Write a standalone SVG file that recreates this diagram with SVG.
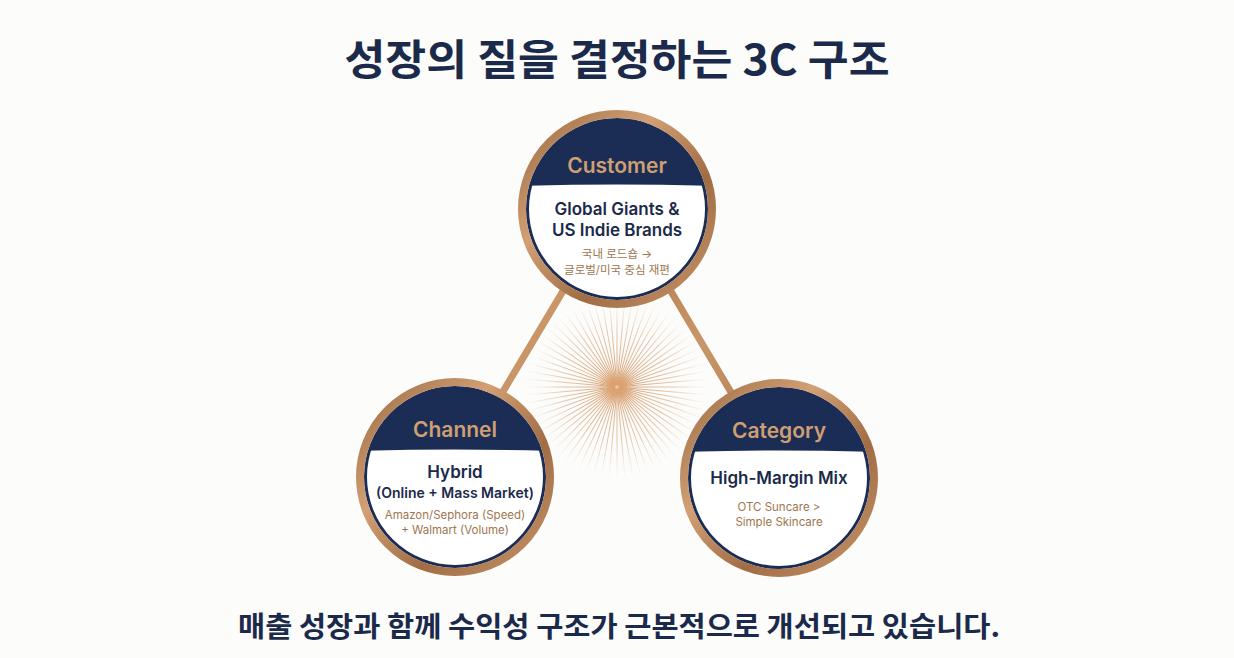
<svg xmlns="http://www.w3.org/2000/svg" xmlns:xlink="http://www.w3.org/1999/xlink" width="1234" height="658" viewBox="0 0 1234 658">
<style>
.ttl{font-family:"Noto Sans CJK KR","Noto Sans",sans-serif;font-weight:700;fill:#1b2a4a;text-anchor:middle}
.hd{font-family:Inter,"Liberation Sans",sans-serif;font-weight:600;font-size:21px;fill:#cf9f73;text-anchor:middle}
.mn{font-family:Inter,"Liberation Sans",sans-serif;font-weight:600;fill:#1b2a4a;text-anchor:middle}
.sb{font-family:Inter,"Noto Sans CJK KR","Liberation Sans",sans-serif;font-weight:400;font-size:11.5px;fill:#a07650;text-anchor:middle}
.band{fill:#1b2d55}
.inr{fill:none;stroke:#1b2d55;stroke-width:3}
.ring{fill:none;stroke:url(#bronze);stroke-width:8}
.conn{stroke:url(#bronzeLine);stroke-width:7;stroke-linecap:butt;fill:none}
.ray{stroke:url(#rayGrad);stroke-width:1}
</style>
<defs>
<linearGradient id="bronze" x1="0" y1="0" x2="1" y2="1">
<stop offset="0" stop-color="#9b6a42"/>
<stop offset="0.35" stop-color="#d2a074"/>
<stop offset="0.65" stop-color="#a06c44"/>
<stop offset="1" stop-color="#c9966b"/>
</linearGradient>
<linearGradient id="bronzeLine" x1="0" y1="0" x2="1" y2="1">
<stop offset="0" stop-color="#a9744a"/>
<stop offset="0.5" stop-color="#c99669"/>
<stop offset="1" stop-color="#a9744a"/>
</linearGradient>
<radialGradient id="rayGrad" gradientUnits="userSpaceOnUse" cx="617" cy="387" r="92">
<stop offset="0" stop-color="#d49a68" stop-opacity="1"/>
<stop offset="0.6" stop-color="#ddb08a" stop-opacity="0.7"/>
<stop offset="1" stop-color="#e8c9aa" stop-opacity="0"/>
</radialGradient>
<radialGradient id="glow" cx="0.5" cy="0.5" r="0.5">
<stop offset="0" stop-color="#e0a672" stop-opacity="0.7"/>
<stop offset="1" stop-color="#e0a672" stop-opacity="0"/>
</radialGradient>
<clipPath id="inner"><circle r="90"/></clipPath>
<line id="ray" class="ray" x1="617" y1="385" x2="617" y2="295"/>
</defs>
<rect width="1234" height="658" fill="#fcfcfb"/>

<text class="ttl" x="617" y="75" font-size="42" textLength="545" lengthAdjust="spacingAndGlyphs">성장의 질을 결정하는 3C 구조</text>

<g id="starburst">
<use xlink:href="#ray"/><use xlink:href="#ray" transform="rotate(5 617 387)"/><use xlink:href="#ray" transform="rotate(10 617 387)"/><use xlink:href="#ray" transform="rotate(15 617 387)"/><use xlink:href="#ray" transform="rotate(20 617 387)"/><use xlink:href="#ray" transform="rotate(25 617 387)"/><use xlink:href="#ray" transform="rotate(30 617 387)"/><use xlink:href="#ray" transform="rotate(35 617 387)"/><use xlink:href="#ray" transform="rotate(40 617 387)"/><use xlink:href="#ray" transform="rotate(45 617 387)"/><use xlink:href="#ray" transform="rotate(50 617 387)"/><use xlink:href="#ray" transform="rotate(55 617 387)"/><use xlink:href="#ray" transform="rotate(60 617 387)"/><use xlink:href="#ray" transform="rotate(65 617 387)"/><use xlink:href="#ray" transform="rotate(70 617 387)"/><use xlink:href="#ray" transform="rotate(75 617 387)"/><use xlink:href="#ray" transform="rotate(80 617 387)"/><use xlink:href="#ray" transform="rotate(85 617 387)"/><use xlink:href="#ray" transform="rotate(90 617 387)"/><use xlink:href="#ray" transform="rotate(95 617 387)"/><use xlink:href="#ray" transform="rotate(100 617 387)"/><use xlink:href="#ray" transform="rotate(105 617 387)"/><use xlink:href="#ray" transform="rotate(110 617 387)"/><use xlink:href="#ray" transform="rotate(115 617 387)"/><use xlink:href="#ray" transform="rotate(120 617 387)"/><use xlink:href="#ray" transform="rotate(125 617 387)"/><use xlink:href="#ray" transform="rotate(130 617 387)"/><use xlink:href="#ray" transform="rotate(135 617 387)"/><use xlink:href="#ray" transform="rotate(140 617 387)"/><use xlink:href="#ray" transform="rotate(145 617 387)"/><use xlink:href="#ray" transform="rotate(150 617 387)"/><use xlink:href="#ray" transform="rotate(155 617 387)"/><use xlink:href="#ray" transform="rotate(160 617 387)"/><use xlink:href="#ray" transform="rotate(165 617 387)"/><use xlink:href="#ray" transform="rotate(170 617 387)"/><use xlink:href="#ray" transform="rotate(175 617 387)"/><use xlink:href="#ray" transform="rotate(180 617 387)"/><use xlink:href="#ray" transform="rotate(185 617 387)"/><use xlink:href="#ray" transform="rotate(190 617 387)"/><use xlink:href="#ray" transform="rotate(195 617 387)"/><use xlink:href="#ray" transform="rotate(200 617 387)"/><use xlink:href="#ray" transform="rotate(205 617 387)"/><use xlink:href="#ray" transform="rotate(210 617 387)"/><use xlink:href="#ray" transform="rotate(215 617 387)"/><use xlink:href="#ray" transform="rotate(220 617 387)"/><use xlink:href="#ray" transform="rotate(225 617 387)"/><use xlink:href="#ray" transform="rotate(230 617 387)"/><use xlink:href="#ray" transform="rotate(235 617 387)"/><use xlink:href="#ray" transform="rotate(240 617 387)"/><use xlink:href="#ray" transform="rotate(245 617 387)"/><use xlink:href="#ray" transform="rotate(250 617 387)"/><use xlink:href="#ray" transform="rotate(255 617 387)"/><use xlink:href="#ray" transform="rotate(260 617 387)"/><use xlink:href="#ray" transform="rotate(265 617 387)"/><use xlink:href="#ray" transform="rotate(270 617 387)"/><use xlink:href="#ray" transform="rotate(275 617 387)"/><use xlink:href="#ray" transform="rotate(280 617 387)"/><use xlink:href="#ray" transform="rotate(285 617 387)"/><use xlink:href="#ray" transform="rotate(290 617 387)"/><use xlink:href="#ray" transform="rotate(295 617 387)"/><use xlink:href="#ray" transform="rotate(300 617 387)"/><use xlink:href="#ray" transform="rotate(305 617 387)"/><use xlink:href="#ray" transform="rotate(310 617 387)"/><use xlink:href="#ray" transform="rotate(315 617 387)"/><use xlink:href="#ray" transform="rotate(320 617 387)"/><use xlink:href="#ray" transform="rotate(325 617 387)"/><use xlink:href="#ray" transform="rotate(330 617 387)"/><use xlink:href="#ray" transform="rotate(335 617 387)"/><use xlink:href="#ray" transform="rotate(340 617 387)"/><use xlink:href="#ray" transform="rotate(345 617 387)"/><use xlink:href="#ray" transform="rotate(350 617 387)"/><use xlink:href="#ray" transform="rotate(355 617 387)"/>
<circle cx="617" cy="387" r="18" fill="url(#glow)"/>
</g>

<g id="connectors">
<line class="conn" x1="612" y1="209" x2="452" y2="477"/>
<line class="conn" x1="622" y1="209" x2="782" y2="478"/>
<line class="conn" x1="455" y1="476" x2="779" y2="476"/>
</g>

<g id="customer" transform="translate(617 209)">
<circle r="91" fill="#fff"/>
<path class="band" d="M-100,-100 H100 V-23 Q0,-26 -100,-23 Z" clip-path="url(#inner)"/>
<circle class="inr" r="89.5"/>
<circle class="ring" r="95"/>
<text class="hd" y="-36">Customer</text>
<text class="mn" y="6" font-size="17">Global Giants &amp;</text>
<text class="mn" y="27" font-size="17">US Indie Brands</text>
<text class="sb" y="49" font-size="11.5">국내 로드숍 →</text>
<text class="sb" y="65" font-size="11.5">글로벌/미국 중심 재편</text>
</g>

<g id="channel" transform="translate(455 477)">
<circle r="91" fill="#fff"/>
<path class="band" d="M-100,-100 H100 V-26 Q0,-29 -100,-26 Z" clip-path="url(#inner)"/>
<circle class="inr" r="89.5"/>
<circle class="ring" r="95"/>
<text class="hd" y="-40">Channel</text>
<text class="mn" y="1" font-size="17">Hybrid</text>
<text class="mn" y="21" font-size="14">(Online + Mass Market)</text>
<text class="sb" y="42">Amazon/Sephora (Speed)</text>
<text class="sb" y="57">+ Walmart (Volume)</text>
</g>

<g id="category" transform="translate(779 478)">
<circle r="91" fill="#fff"/>
<path class="band" d="M-100,-100 H100 V-26 Q0,-29 -100,-26 Z" clip-path="url(#inner)"/>
<circle class="inr" r="89.5"/>
<circle class="ring" r="95"/>
<text class="hd" y="-40">Category</text>
<text class="mn" y="6" font-size="17">High-Margin Mix</text>
<text class="sb" y="33">OTC Suncare &gt;</text>
<text class="sb" y="48">Simple Skincare</text>
</g>

<text class="ttl" x="619" y="637" font-size="28" textLength="762" lengthAdjust="spacingAndGlyphs">매출 성장과 함께 수익성 구조가 근본적으로 개선되고 있습니다.</text>
</svg>
